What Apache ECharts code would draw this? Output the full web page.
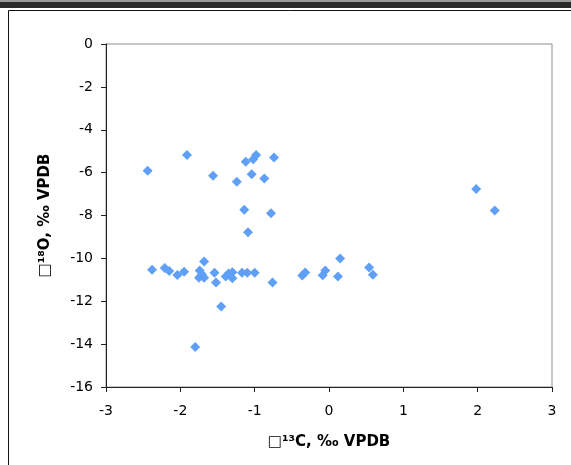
<!DOCTYPE html>
<html><head><meta charset="utf-8">
<script src="https://cdn.jsdelivr.net/npm/echarts@6/dist/echarts.min.js"></script>
<style>html,body{margin:0;padding:0;background:#fff;}#c{width:571px;height:465px;}</style>
</head><body><div id="c"></div>
<script>
// δ13C values (x)
const d13C = [
  -2.44, -1.91, -1.56, -1.24, -1.12, -1.02, -0.98, -0.74, -1.04, -0.87,
  -1.14, -0.78, -1.09, 1.98, 2.23,
  -2.38, -2.21, -2.15, -2.04, -1.95, -1.68, -1.74, -1.71, -1.75, -1.68,
  -1.54, -1.52, -1.39, -1.35, -1.30, -1.30, -1.17, -1.10, -1.00, -0.76,
  -1.45, -1.80, -0.36, -0.32, -0.085, -0.05, 0.12, 0.15, 0.54, 0.59
];
// δ18O values (y)
const d18O = [
  -5.91, -5.18, -6.14, -6.42, -5.49, -5.38, -5.18, -5.30, -6.08, -6.27,
  -7.73, -7.90, -8.78, -6.76, -7.77,
  -10.53, -10.45, -10.59, -10.77, -10.62, -10.15, -10.57, -10.74, -10.90, -10.90,
  -10.67, -11.13, -10.85, -10.70, -10.65, -10.93, -10.67, -10.67, -10.67, -11.12,
  -12.25, -14.13, -10.80, -10.66, -10.79, -10.57, -10.85, -10.00, -10.43, -10.76
];
const xTitle = '\u25A1\u00B9\u00B3C, \u2030 VPDB';
const yTitle = '\u25A1\u00B9\u2078O, \u2030 VPDB';

const points = d13C.map((x, i) => [x, d18O[i]]);
const font = 'DejaVu Sans, Verdana, sans-serif';
const chart = echarts.init(document.getElementById('c'), null, {renderer: 'canvas'});
chart.setOption({
  animation: false,
  backgroundColor: '#fff',
  graphic: [
    {type: 'rect', shape: {x: 0, y: 0, width: 571, height: 2}, style: {fill: '#9a9a9a'}, silent: true},
    {type: 'rect', shape: {x: 0, y: 2, width: 571, height: 6}, style: {fill: '#2a2a2a'}, silent: true},
    {type: 'line', shape: {x1: 8.5, y1: 10.5, x2: 571, y2: 10.5}, style: {stroke: '#111', lineWidth: 1}, silent: true},
    {type: 'line', shape: {x1: 8.5, y1: 10.5, x2: 8.5, y2: 465}, style: {stroke: '#111', lineWidth: 1}, silent: true}
  ],
  grid: {left: 106, top: 44, right: 19, bottom: 78, show: true, borderColor: '#909090', borderWidth: 1, backgroundColor: 'transparent'},
  xAxis: {
    type: 'value', min: -3, max: 3, interval: 1,
    name: xTitle, nameLocation: 'middle', nameGap: 48,
    nameTextStyle: {fontFamily: font, fontSize: 15, fontWeight: 'bold', color: '#000'},
    axisLine: {show: true, onZero: false, lineStyle: {color: '#222', width: 1}},
    axisTick: {show: true, inside: false, length: 5, lineStyle: {color: '#222'}},
    axisLabel: {fontFamily: font, fontSize: 14, color: '#000', margin: 17},
    splitLine: {show: false}
  },
  yAxis: {
    type: 'value', min: -16, max: 0, interval: 2,
    name: yTitle, nameLocation: 'middle', nameGap: 53,
    nameTextStyle: {fontFamily: font, fontSize: 15, fontWeight: 'bold', color: '#000'},
    axisLine: {show: true, onZero: false, lineStyle: {color: '#222', width: 1}},
    axisTick: {show: true, inside: false, length: 5, lineStyle: {color: '#222'}},
    axisLabel: {fontFamily: font, fontSize: 14, color: '#000', margin: 13},
    splitLine: {show: false}
  },
  series: [{
    type: 'scatter',
    data: points,
    symbol: 'diamond',
    symbolSize: 10,
    itemStyle: {color: '#5fa0f6', opacity: 1}
  }]
});
</script></body></html>
